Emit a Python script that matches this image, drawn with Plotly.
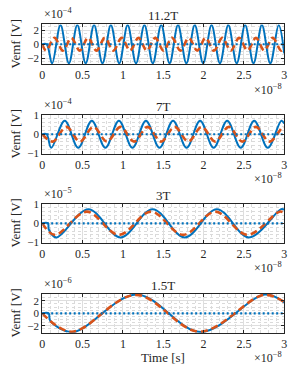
import plotly.graph_objects as go
from plotly.subplots import make_subplots

W, H = 299, 373

titles = ["11.2T", "7T", "3T", "1.5T"]
y_exponents = ["−4", "−4", "−5", "−6"]
x_exponent = "−8"
y_label = "Vemf [V]"
x_label = "Time [s]"
y_ranges = [[-2.8, 2.8], [-1, 1], [-1, 1], [-3.1, 3.1]]
y_ticks = [[-2, 0, 2], [-1, 0, 1], [-1, 0, 1], [-2, 0, 2]]
y_minor = [0.5, 0.2, 0.2, 0.5]
x_ticks = [0, 0.5, 1, 1.5, 2, 2.5, 3]
x_range = [0, 3]

# ---- 11.2T (time x1e-8 s, volts x1e-4) ----
t_blue_1 = [0, 0.055, 0.123, 0.227, 0.331, 0.435, 0.539, 0.643, 0.747, 0.851, 0.955,
            1.059, 1.163, 1.267, 1.371, 1.475, 1.579, 1.683, 1.787, 1.891, 1.995,
            2.099, 2.203, 2.307, 2.411, 2.515, 2.619, 2.723, 2.827, 2.931, 3.0]
v_blue_1 = [0, 0, -2.7, 2.7, -2.7, 2.7, -2.7, 2.7, -2.7, 2.7, -2.7,
            2.7, -2.7, 2.7, -2.7, 2.7, -2.7, 2.7, -2.7, 2.7, -2.7,
            2.7, -2.7, 2.7, -2.7, 2.7, -2.7, 2.7, -2.7, 2.7, -1.3]
t_orange_1 = [0, 0.049, 0.153, 0.257, 0.361, 0.465, 0.569, 0.673, 0.777, 0.881, 0.985,
              1.089, 1.193, 1.297, 1.401, 1.505, 1.609, 1.713, 1.817, 1.921, 2.025,
              2.129, 2.233, 2.337, 2.441, 2.545, 2.649, 2.753, 2.857, 2.961, 3.0]
v_orange_1 = [0, -0.9, 0.9, -0.9, 0.9, -0.9, 0.9, -0.9, 0.9, -0.9, 0.9,
              -0.9, 0.9, -0.9, 0.9, -0.9, 0.9, -0.9, 0.9, -0.9, 0.9,
              -0.9, 0.9, -0.9, 0.9, -0.9, 0.9, -0.9, 0.9, -0.9, -0.35]

# ---- 7T (volts x1e-4) ----
t_blue_2 = [0, 0.055, 0.112, 0.280, 0.447, 0.615, 0.783, 0.951, 1.119, 1.286, 1.454,
            1.622, 1.790, 1.957, 2.125, 2.293, 2.461, 2.628, 2.796, 2.964, 3.0]
v_blue_2 = [0, 0, -0.7, 0.7, -0.7, 0.7, -0.7, 0.7, -0.7, 0.7, -0.7,
            0.7, -0.7, 0.7, -0.7, 0.7, -0.7, 0.7, -0.7, 0.7, 0.55]
t_orange_2 = [0, 0.132, 0.300, 0.467, 0.635, 0.803, 0.971, 1.139, 1.306, 1.474,
              1.642, 1.810, 1.977, 2.145, 2.313, 2.481, 2.648, 2.816, 2.984, 3.0]
v_orange_2 = [0, -0.38, 0.38, -0.38, 0.38, -0.38, 0.38, -0.38, 0.38, -0.38,
              0.38, -0.38, 0.38, -0.38, 0.38, -0.38, 0.38, -0.38, 0.38, 0.37]

# ---- 3T (volts x1e-5) ----
t_blue_3 = [0, 0.072, 0.082, 0.175, 0.573, 0.971, 1.369, 1.767, 2.165, 2.563, 2.961, 3.0]
v_blue_3 = [0, 0, -0.32, -0.73, 0.73, -0.73, 0.73, -0.73, 0.73, -0.73, 0.73, 0.70]
t_orange_3 = [0, 0.155, 0.553, 0.951, 1.349, 1.747, 2.145, 2.543, 2.941, 3.0]
v_orange_3 = [0, -0.6, 0.6, -0.6, 0.6, -0.6, 0.6, -0.6, 0.6, 0.54]

# ---- 1.5T (volts x1e-6) ----
t_blue_4 = [0, 0.08, 0.1, 0.375, 1.17, 1.965, 2.76, 3.0]
v_blue_4 = [0, 0, -1.2, -3.0, 3.0, -3.0, 3.0, 1.75]
t_orange_4 = [0, 0.365, 1.16, 1.955, 2.75, 3.0]
v_orange_4 = [0, -2.95, 2.95, -2.95, 2.95, 1.8]

# reference (dotted) line
t_ref = [0, 3]
v_ref = [0, 0]

blue_t = [t_blue_1, t_blue_2, t_blue_3, t_blue_4]
blue_v = [v_blue_1, v_blue_2, v_blue_3, v_blue_4]
orange_t = [t_orange_1, t_orange_2, t_orange_3, t_orange_4]
orange_v = [v_orange_1, v_orange_2, v_orange_3, v_orange_4]

BLUE = "#0072BD"
ORANGE = "#D95319"
AX = "#262626"
FONT = "Liberation Serif"

# panel pixel boxes (top, bottom)
panel_px = [(19, 60), (112.5, 152.5), (204.5, 244.5), (297.5, 337.5)]
x0_px, x1_px = 40, 287

fig = make_subplots(rows=4, cols=1)

for i in range(4):
    r = i + 1
    fig.add_trace(go.Scatter(x=blue_t[i], y=blue_v[i], mode="lines",
                             line=dict(color=BLUE, width=2, shape="spline", smoothing=1)),
                  row=r, col=1)
    fig.add_trace(go.Scatter(x=orange_t[i], y=orange_v[i], mode="lines",
                             line=dict(color=ORANGE, width=2.6, shape="spline", smoothing=1,
                                       dash="7px,4px")),
                  row=r, col=1)
    fig.add_trace(go.Scatter(x=t_ref, y=v_ref, mode="lines",
                             line=dict(color=BLUE, width=2.2, dash="2px,2.5px")),
                  row=r, col=1)

    top, bot = panel_px[i]
    fig.update_xaxes(row=r, col=1,
                     domain=[x0_px / W, x1_px / W],
                     range=x_range, tickvals=x_ticks,
                     ticks="inside", ticklen=3, tickcolor=AX,
                     showline=True, linecolor=AX, linewidth=1, mirror="ticks",
                     showgrid=True, gridcolor="#dedede", gridwidth=1,
                     minor=dict(dtick=0.1, showgrid=True, gridcolor="#dadada",
                                griddash="dot", gridwidth=1),
                     zeroline=False,
                     tickfont=dict(family=FONT, size=12, color=AX))
    fig.update_yaxes(row=r, col=1,
                     domain=[1 - bot / H, 1 - top / H],
                     range=y_ranges[i], tickvals=y_ticks[i],
                     ticks="inside", ticklen=3, tickcolor=AX,
                     showline=True, linecolor=AX, linewidth=1, mirror="ticks",
                     showgrid=True, gridcolor="#dedede", gridwidth=1,
                     minor=dict(dtick=y_minor[i], showgrid=True, gridcolor="#dadada",
                                griddash="dot", gridwidth=1),
                     zeroline=False,
                     tickfont=dict(family=FONT, size=11, color=AX))

    xc = (x0_px + x1_px) / 2 / W
    # title
    fig.add_annotation(text=titles[i], xref="paper", yref="paper",
                       x=xc, y=1 - (top - 9) / H, xanchor="center", yanchor="middle",
                       showarrow=False, font=dict(family=FONT, size=13, color=AX))
    # y exponent
    fig.add_annotation(text="×10<sup>" + y_exponents[i] + "</sup>", xref="paper", yref="paper",
                       x=x0_px / W, y=1 - (top - 1) / H, xanchor="left", yanchor="bottom",
                       showarrow=False, font=dict(family=FONT, size=12, color=AX))
    # x exponent
    fig.add_annotation(text="×10<sup>" + x_exponent + "</sup>", xref="paper", yref="paper",
                       x=x1_px / W, y=1 - (bot + 26) / H, xanchor="right", yanchor="middle",
                       showarrow=False, font=dict(family=FONT, size=12, color=AX))
    # y label
    fig.add_annotation(text=y_label, xref="paper", yref="paper",
                       x=12.5 / W, y=1 - ((top + bot) / 2) / H, xanchor="center", yanchor="middle",
                       textangle=-90, showarrow=False, font=dict(family=FONT, size=13, color=AX))

fig.add_annotation(text=x_label, xref="paper", yref="paper",
                   x=(x0_px + x1_px) / 2 / W, y=1 - 363 / H, xanchor="center", yanchor="middle",
                   showarrow=False, font=dict(family=FONT, size=13, color=AX))

fig.update_layout(width=W, height=H, margin=dict(l=0, r=0, t=0, b=0),
                  plot_bgcolor="white", paper_bgcolor="white", showlegend=False,
                  font=dict(family=FONT, size=12, color=AX))

fig.write_html("out.html", config={"displayModeBar": False},
               post_script="document.body.style.margin='0';document.body.style.padding='0';")
